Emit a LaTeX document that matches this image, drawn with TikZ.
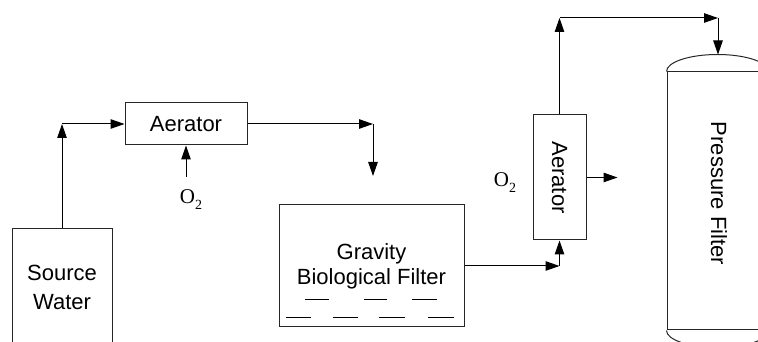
\documentclass[tikz,border=0pt]{standalone}
\usepackage{fontspec}
\setmainfont{Liberation Sans}
\newfontfamily\oxyfont{Liberation Serif}
\usetikzlibrary{arrows.meta}
\newcommand{\oxygen}{{\oxyfont O\raisebox{-6pt}{\fontsize{14}{14}\selectfont 2}}}

\begin{document}
\begin{tikzpicture}[
  x=1pt,
  y=1pt,
  every node/.style={font=\fontsize{22}{26}\selectfont, inner sep=0pt},
  unit/.style={draw=black!85, line width=1pt, align=center},
  shell/.style={black!85, line width=1pt},
  flow/.style={black, line width=1pt, -{Triangle[length=14pt, width=9.5pt]}},
  water/.style={black, line width=0.9pt},
  gas/.style={font=\fontsize{21}{21}\selectfont}
]
  % ---- page frame -------------------------------------------------------
  \useasboundingbox (0,0) rectangle (758,342);

  % ---- treatment units --------------------------------------------------
  \node[unit, minimum width=100pt, minimum height=116pt,
        font=\fontsize{22}{29}\selectfont] (src) at (62,55)
    {Source\\Water};
  \node[unit, minimum width=122pt, minimum height=42pt] (aer1) at (186,218)
    {Aerator};
  \node[unit, minimum width=185pt, minimum height=122pt,
        font=\fontsize{22}{25}\selectfont] (gbf) at (371.5,76)
    {Gravity\\Biological Filter};
  \node[unit, minimum width=53pt, minimum height=125pt] (aer2) at (559.5,164.5)
    {\rotatebox{-90}{Aerator}};

  % ---- water surface in the gravity filter ------------------------------
  \foreach \a/\b in {305/329, 364/387, 412/437}
    \draw[water] (\a,43) -- (\b,43);
  \foreach \a/\b in {286/311, 333/358, 379/405, 428/454}
    \draw[water] (\a,25) -- (\b,25);

  % ---- pressure vessel --------------------------------------------------
  \node[draw=black!85, line width=1pt, minimum width=102pt,
        minimum height=258pt] (pf) at (718,141) {};
  \draw[shell] (pf.north west)
    arc[start angle=180, end angle=0, x radius=51pt, y radius=17pt];
  \draw[shell] (pf.south west)
    arc[start angle=180, end angle=360, x radius=51pt, y radius=17pt];
  \node[rotate=-90] (pftext) at (719,148.5) {Pressure Filter};

  % ---- oxygen feeds -----------------------------------------------------
  \coordinate (o2in) at (186,165);
  \draw[flow] (o2in) -- (aer1.south);
  \node[gas] (o2a) at (191,142) {\oxygen};
  \node[gas] (o2b) at (505,159) {\oxygen};

  % ---- water path -------------------------------------------------------
  \coordinate (c1) at (src.north |- aer1.west);
  \draw[flow] (src.north) -- (c1);
  \draw[flow] (c1) -- (aer1.west);

  \coordinate (c2) at (373,218);
  \coordinate (c3) at (373,166);
  \draw[flow] (aer1.east) -- (c2);
  \draw[flow] (c2) -- (c3);

  \coordinate (c4) at (aer2.south |- gbf.east);
  \draw[flow] (gbf.east) -- (c4);
  \draw[flow] (c4) -- (aer2.south);

  \coordinate (c5) at ([xshift=31pt]aer2.east);
  \draw[flow] (aer2.east) -- (c5);

  \coordinate (c6) at (559.5,324);
  \coordinate (c7) at (pf.north |- c6);
  \coordinate (pftop) at ([yshift=17pt]pf.north);
  \draw[flow] (aer2.north) -- (c6);
  \draw[flow] (c6) -- (c7);
  \draw[flow] (c7) -- (pftop);
\end{tikzpicture}
\end{document}
